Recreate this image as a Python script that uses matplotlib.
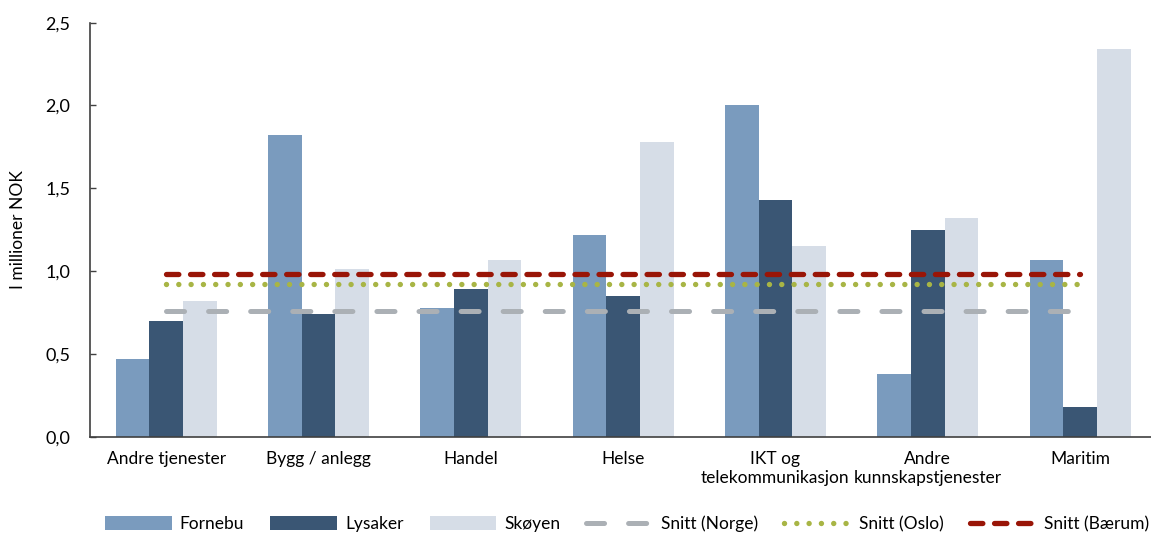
import matplotlib
matplotlib.use('Agg')
from matplotlib import pyplot as plt
import numpy as np

categories = ['Andre tjenester', 'Bygg / anlegg', 'Handel', 'Helse',
              'IKT og\ntelekommunikasjon', 'Andre\nkunnskapstjenester', 'Maritim']
fornebu = [0.47, 1.82, 0.78, 1.22, 2.00, 0.38, 1.07]
lysaker = [0.70, 0.74, 0.89, 0.85, 1.43, 1.25, 0.18]
skoyen = [0.82, 1.01, 1.07, 1.78, 1.15, 1.32, 2.34]
snitt_norge = 0.76
snitt_oslo = 0.92
snitt_baerum = 0.98
y_ticks = [0.0, 0.5, 1.0, 1.5, 2.0, 2.5]
y_tick_labels = ['0,0', '0,5', '1,0', '1,5', '2,0', '2,5']

plt.rcParams['font.family'] = ['Lato', 'DejaVu Sans']
plt.rcParams['lines.scale_dashes'] = False

fig = plt.figure(figsize=(11.51, 5.34), dpi=100)
ax = fig.add_axes([90 / 1151, 97.3 / 534, 1 - 90 / 1151, (511.3 - 97.3) / 534])

x = np.arange(len(categories))
w = 0.221
b1 = ax.bar(x - w, fornebu, w, color='#7A9BBE', label='Fornebu', zorder=2)
b2 = ax.bar(x, lysaker, w, color='#3A5674', label='Lysaker', zorder=2)
b3 = ax.bar(x + w, skoyen, w, color='#D6DDE7', label='Skøyen', zorder=2)

l1, = ax.plot(x, [snitt_norge] * len(x), color='#ABB0B5', lw=3.6, dashes=(13, 17.3),
              solid_capstyle='round', dash_capstyle='round', label='Snitt (Norge)', zorder=3)
l2, = ax.plot(x, [snitt_oslo] * len(x), color='#A8B545', lw=3.9, dashes=(0.01, 8.85),
              dash_capstyle='round', label='Snitt (Oslo)', zorder=3)
l3, = ax.plot(x, [snitt_baerum] * len(x), color='#991507', lw=3.8, dashes=(8.9, 8.4),
              dash_capstyle='round', label='Snitt (Bærum)', zorder=3)

ax.set_xlim(-0.5, 6.466)
ax.set_ylim(0, 2.5)
ax.set_yticks(y_ticks)
ax.set_yticklabels(y_tick_labels)
ax.set_xticks(x)
ax.set_xticklabels(categories, linespacing=1.25)
ax.tick_params(axis='y', direction='in', length=4, width=1, color='#404040',
               labelsize=13, pad=14)
ax.tick_params(axis='x', length=0, labelsize=12.5, pad=10)
ax.set_ylabel('I millioner NOK', fontsize=12.5, labelpad=14)

for s in ['top', 'right']:
    ax.spines[s].set_visible(False)
for s in ['left', 'bottom']:
    ax.spines[s].set_color('#404040')
    ax.spines[s].set_linewidth(1.2)

handles = [b1, b2, b3, l1, l2, l3]
ax.legend(handles, [h.get_label() for h in handles], loc='center',
          bbox_to_anchor=(0.545, 10 / 534), bbox_transform=fig.transFigure,
          ncol=6, frameon=False, fontsize=12.5, handlelength=3.85,
          handletextpad=0.45, columnspacing=1.5, handleheight=0.85)

fig.savefig('out.png', dpi=100)
